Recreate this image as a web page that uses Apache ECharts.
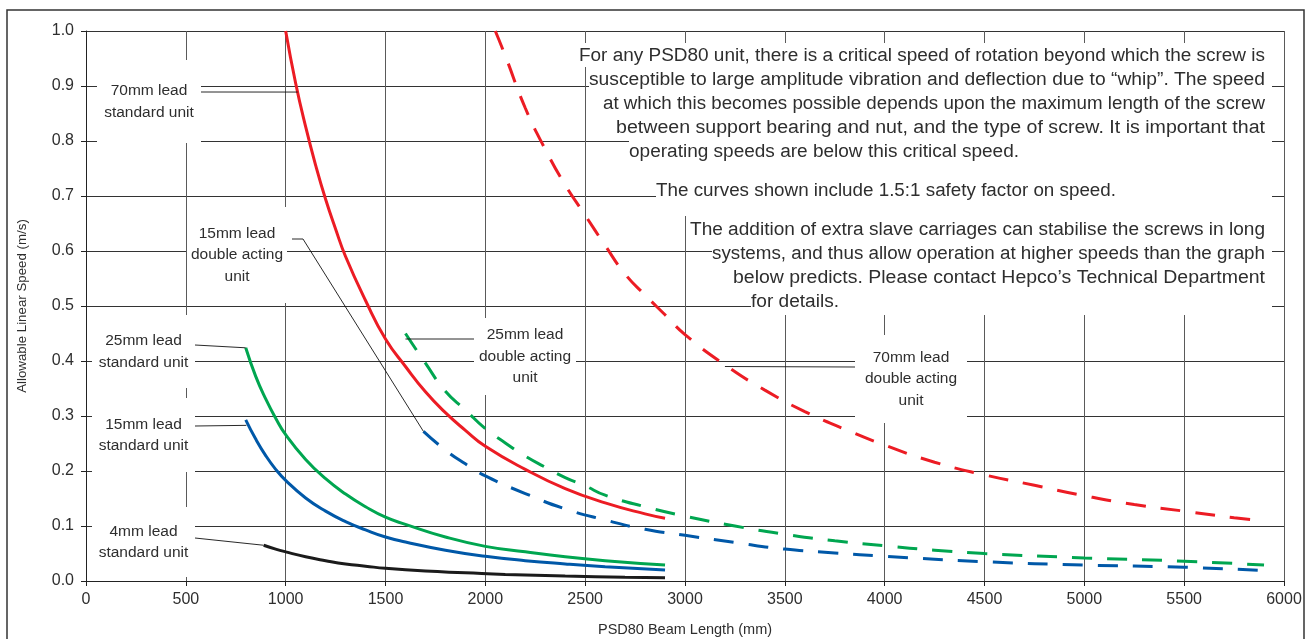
<!DOCTYPE html>
<html><head><meta charset="utf-8">
<script src="https://cdn.jsdelivr.net/npm/echarts@6/dist/echarts.min.js"></script>
<style>html,body{margin:0;padding:0;background:#fff}#c{width:1309px;height:639px}</style>
</head><body><div id="c"></div>
<script>
// ---- data: [beam length mm, speed m/s] ----
const lead70Std = [[1000,1.0],[1050,0.905],[1100,0.826],[1150,0.756],[1200,0.694],[1250,0.64],[1300,0.59],[1400,0.51],[1500,0.44],[1600,0.39],[1700,0.344],[1800,0.306],[1900,0.274],[2000,0.245],[2200,0.203],[2400,0.168],[2600,0.142],[2800,0.122],[2900,0.114]];
const lead70DA = [[2050,1.0],[2100,0.955],[2200,0.86],[2300,0.785],[2400,0.72],[2500,0.665],[2600,0.61],[2700,0.558],[2800,0.52],[2900,0.484],[3000,0.448],[3200,0.393],[3400,0.347],[3600,0.308],[3800,0.276],[4000,0.247],[4250,0.216],[4500,0.193],[4750,0.174],[5000,0.155],[5250,0.139],[5500,0.127],[5750,0.115],[5900,0.109]];
const lead25Std = [[800,0.424],[850,0.372],[900,0.331],[950,0.296],[1000,0.266],[1100,0.221],[1200,0.186],[1300,0.158],[1400,0.135],[1500,0.116],[1600,0.103],[1800,0.08],[2000,0.063],[2200,0.053],[2400,0.044],[2600,0.037],[2900,0.029]];
const lead25DA = [[1600,0.45],[1700,0.396],[1800,0.345],[1900,0.311],[2000,0.277],[2100,0.251],[2200,0.227],[2300,0.207],[2400,0.188],[2500,0.173],[2600,0.156],[2800,0.135],[3000,0.118],[3250,0.1],[3500,0.085],[3750,0.073],[4000,0.064],[4250,0.056],[4500,0.05],[5000,0.042],[5500,0.036],[5900,0.029]];
const lead15Std = [[800,0.293],[850,0.258],[900,0.228],[950,0.203],[1000,0.183],[1100,0.151],[1200,0.127],[1300,0.108],[1400,0.093],[1500,0.08],[1600,0.071],[1800,0.056],[2000,0.045],[2200,0.037],[2400,0.031],[2600,0.026],[2900,0.02]];
const lead15DA = [[1690,0.272],[1800,0.238],[1900,0.213],[2000,0.191],[2200,0.159],[2400,0.131],[2600,0.111],[2800,0.094],[3000,0.083],[3250,0.07],[3500,0.058],[3750,0.051],[4000,0.045],[4500,0.035],[5000,0.029],[5500,0.025],[5900,0.019]];
const lead4Std = [[890,0.065],[950,0.058],[1000,0.053],[1100,0.044],[1200,0.037],[1300,0.031],[1400,0.027],[1500,0.023],[1700,0.018],[1900,0.015],[2100,0.012],[2400,0.009],[2700,0.007],[2900,0.006]];

const xTicks = {min:0, max:6000, step:500};
const yTicks = {min:0, max:1.0, step:0.1};

const para1 = [
  'For any PSD80 unit, there is a critical speed of rotation beyond which the screw is',
  'susceptible to large amplitude vibration and deflection due to \u201cwhip\u201d. The speed',
  'at which this becomes possible depends upon the maximum length of the screw',
  'between support bearing and nut, and the type of screw. It is important that',
  'operating speeds are below this critical speed.'
];
const para2 = ['The curves shown include 1.5:1 safety factor on speed.'];
const para3 = [
  'The addition of extra slave carriages can stabilise the screws in long',
  'systems, and thus allow operation at higher speeds than the graph',
  'below predicts. Please contact Hepco\u2019s Technical Department',
  'for details.'
];

const FONT = 'Liberation Sans';
const TXT = '#2e2e2e';
const RED = '#ec1c24', GREEN = '#00a650', BLUE = '#0058a8', BLACK = '#1b1b1b';

function solid(name, data, color) {
  return {name, type:'line', data, smooth:true, symbol:'none', z:3,
    lineStyle:{color, width:3}};
}
function dashed(name, data, color) {
  return {name, type:'line', data, smooth:true, symbol:'none', z:3,
    lineStyle:{color, width:3, type:[20,15], cap:'butt'}};
}

const chart = echarts.init(document.getElementById('c'));
chart.setOption({
  animation:false,
  backgroundColor:'#fff',
  grid:{left:86, right:25, top:31, bottom:58, containLabel:false, outerBoundsMode:'none'},
  xAxis:{type:'value', min:xTicks.min, max:xTicks.max, interval:xTicks.step,
    name:'PSD80 Beam Length (mm)', nameLocation:'middle', nameGap:41,
    nameTextStyle:{fontFamily:FONT, fontSize:14.5, color:TXT},
    axisLine:{lineStyle:{color:'#222', width:1}},
    axisTick:{length:5, lineStyle:{color:'#222'}},
    axisLabel:{fontFamily:FONT, fontSize:16, color:TXT, margin:11, formatter:v=>String(v)},
    splitLine:{show:true, lineStyle:{color:'#5a5a5a', width:1}}},
  yAxis:{type:'value', min:yTicks.min, max:yTicks.max, interval:yTicks.step,
    name:'Allowable Linear Speed (m/s)', nameLocation:'middle', nameGap:57,
    nameTextStyle:{fontFamily:FONT, fontSize:13.3, color:TXT},
    axisLine:{show:true, lineStyle:{color:'#222', width:1}},
    axisTick:{show:true, length:5, lineStyle:{color:'#222'}},
    axisLabel:{fontFamily:FONT, fontSize:16, color:TXT, margin:12, formatter:v=>v.toFixed(1)},
    splitLine:{show:true, lineStyle:{color:'#333', width:1}}},
  series:[
    solid('70mm lead standard unit', lead70Std, RED),
    dashed('70mm lead double acting unit', lead70DA, RED),
    solid('25mm lead standard unit', lead25Std, GREEN),
    dashed('25mm lead double acting unit', lead25DA, GREEN),
    solid('15mm lead standard unit', lead15Std, BLUE),
    dashed('15mm lead double acting unit', lead15DA, BLUE),
    solid('4mm lead standard unit', lead4Std, BLACK)
  ]
});

const P = (x,y) => chart.convertToPixel({gridIndex:0}, [x,y]);

const labels = [
  {t:'70mm lead\nstandard unit', box:[97,60,104,83], from:[201,92], end:[1060,0.889]},
  {t:'15mm lead\ndouble acting\nunit', box:[187,207,100,96], from:[292,239], mid:[303,239], end:[1690,0.272]},
  {t:'25mm lead\nstandard unit', box:[92,315,103,73], from:[195,345], end:[800,0.424]},
  {t:'15mm lead\nstandard unit', box:[92,398,103,74], from:[195,426], end:[803,0.283]},
  {t:'4mm lead\nstandard unit', box:[92,507,103,70], from:[195,538], end:[890,0.065]},
  {t:'25mm lead\ndouble acting\nunit', box:[474,318,102,77], from:[474,339], end:[1600,0.44]},
  {t:'70mm lead\ndouble acting\nunit', box:[855,335,112,88], from:[855,367], end:[3200,0.39]}
];

// text line layout: [left, right, centreY]
const para1Pos = [[579,1265,56],[589,1265,80],[603,1265,104],[616,1265,128],[629,1019,152]];
const para2Pos = [[656,1116,191]];
const para3Pos = [[690,1265,230],[712,1265,254],[733,1265,278],[751,839,302]];

const PFS = 18;
const pf = PFS + 'px "' + FONT + '"';
const mctx = document.createElement('canvas').getContext('2d');
mctx.font = pf;

const g = [];
g.push({type:'rect', shape:{x:7,y:10,width:1297,height:640}, style:{fill:'none', stroke:'#333', lineWidth:1.5}, z:1});
g.push({type:'polygon', z:5, shape:{points:[
  [579,43],[1272,43],[1272,315],[751,315],[751,290],[733,290],[733,266],[712,266],[712,242],[690,242],
  [690,216],[656,216],[656,166],[629,166],[629,140],[616,140],[616,116],[603,116],[603,92],[589,92],[589,67],[579,67]
]}, style:{fill:'#fff'}});
function addLines(lines, pos) {
  lines.forEach((s,i) => {
    const [l,r,y] = pos[i];
    const w = mctx.measureText(s).width;
    const sx = (r - l) / w;
    g.push({type:'text', z:6, x:l, y:y, scaleX:sx, scaleY:1,
      style:{text:s, x:0, y:0, font:pf, fill:TXT, align:'left', verticalAlign:'middle'}});
  });
}
addLines(para1, para1Pos);
addLines(para2, para2Pos);
addLines(para3, para3Pos);

labels.forEach(L => {
  const [bx,by,bw,bh] = L.box;
  g.push({type:'rect', z:5, shape:{x:bx,y:by,width:bw,height:bh}, style:{fill:'#fff'}});
  g.push({type:'text', z:6, style:{text:L.t, x:bx+bw/2, y:by+bh/2, font:'15.5px "' + FONT + '"', lineHeight:21.5,
    fill:TXT, align:'center', verticalAlign:'middle'}});
  const pts = [L.from];
  if (L.mid) pts.push(L.mid);
  pts.push(P(L.end[0], L.end[1]));
  g.push({type:'polyline', z:7, shape:{points:pts}, style:{stroke:'#111', lineWidth:0.9, fill:'none'}});
});

chart.setOption({graphic:{elements:g}});
</script>
</body></html>
